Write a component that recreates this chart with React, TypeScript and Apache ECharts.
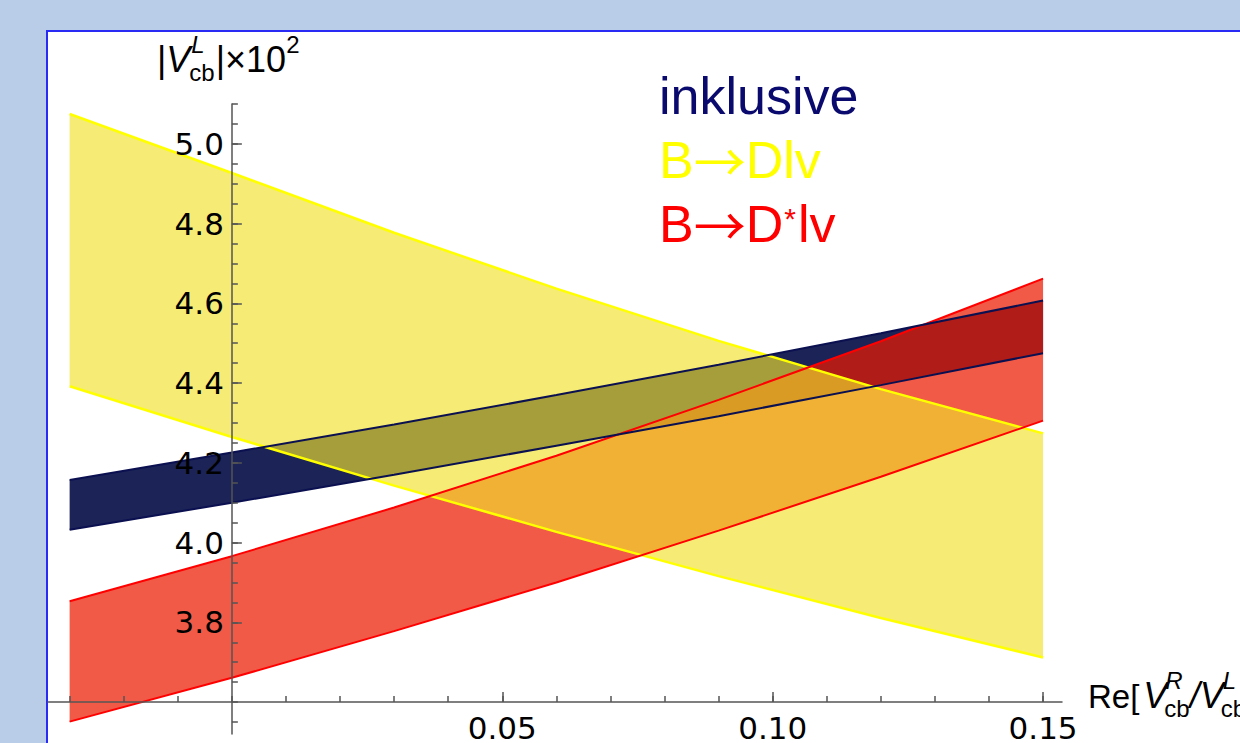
import React, { useEffect, useRef } from "react";
import * as echarts from "echarts";

// ---------------- data ----------------
const XS = [-0.03, 0, 0.03, 0.06, 0.09, 0.12, 0.15];
// inklusive band
const INKL_HI = [4.157, 4.226, 4.296, 4.37, 4.446, 4.525, 4.607];
const INKL_LO = [4.032, 4.1, 4.17, 4.243, 4.317, 4.395, 4.475];
// B -> D l nu band
const BDLV_HI = [5.075, 4.927, 4.777, 4.637, 4.506, 4.385, 4.274];
const BDLV_LO = [4.392, 4.265, 4.143, 4.027, 3.916, 3.811, 3.712];
// B -> D* l nu band
const BDSLV_HI = [3.853, 3.966, 4.088, 4.218, 4.358, 4.505, 4.662];
const BDSLV_LO = [3.551, 3.661, 3.778, 3.9, 4.03, 4.165, 4.306];

const SERIES_NAMES = ["inklusive", "B→Dlv", "B→D*lv"];

const Y_MAJOR = [3.8, 4.0, 4.2, 4.4, 4.6, 4.8, 5.0];
const Y_MINOR = [
  3.55, 3.6, 3.65, 3.7, 3.75, 3.8, 3.85, 3.9, 3.95, 4.0, 4.05, 4.1, 4.15, 4.2,
  4.25, 4.3, 4.35, 4.4, 4.45, 4.5, 4.55, 4.6, 4.65, 4.7, 4.75, 4.8, 4.85, 4.9,
  4.95, 5.0, 5.05, 5.1,
];
const X_MAJOR = [0.05, 0.1, 0.15];
const X_MINOR = [
  -0.03, -0.02, -0.01, 0, 0.01, 0.02, 0.03, 0.04, 0.05, 0.06, 0.07, 0.08, 0.09,
  0.1, 0.11, 0.12, 0.13, 0.14, 0.15,
];

const X_MIN = -0.034;
const X_MAX = 0.1535;
const Y_MIN = 3.52;
const Y_MAX = 5.1;
const X_AXIS_AT_Y = 3.6; // the horizontal axis crosses here
const Y_AXIS_AT_X = 0; // the vertical axis crosses here

// ---------------- layout / style ----------------
const W = 1240;
const H = 743;
const GRID_LEFT = 48;
const GRID_TOP = 104;
const GRID_W = 1014;
const GRID_H = 630;

const SANS = '"Liberation Sans", Arial, Helvetica, sans-serif';
const DEJAVU = '"DejaVu Sans", sans-serif';
const ARROWFONT = '"Noto Sans CJK SC", "DejaVu Sans", sans-serif';
const AXIS_COLOR = "#555555";

const NAVY_FILL = "#1b2357";
const RED_FILL = "rgb(234,26,0)";
const YELLOW_FILL = "rgb(240,225,43)";

export default function App() {
  const ref = useRef<HTMLDivElement>(null);

  useEffect(() => {
    const el = ref.current;
    if (!el) return;
    const chart = echarts.init(el, null, { renderer: "svg", width: W, height: H });

    const cnv = document.createElement("canvas").getContext("2d")!;
    const tw = (t: string, size: number, italic = false, fam = SANS) => {
      cnv.font = `${italic ? "italic " : ""}${size}px ${fam}`;
      return cnv.measureText(t).width;
    };
    const txt = (
      text: string,
      x: number,
      baseline: number,
      size: number,
      color: string,
      italic = false,
      rich?: any
    ) => ({
      type: "text",
      x,
      y: baseline - 0.35 * size,
      silent: true,
      z: 50,
      style: {
        text,
        fill: color,
        fontSize: size,
        lineHeight: size,
        fontFamily: SANS,
        fontStyle: italic ? "italic" : "normal",
        align: "left",
        verticalAlign: "middle",
        ...(rich ? { rich } : {}),
      },
    });

    const graphics: any[] = [];

    // ---- y axis title: |V^L_cb| x 10^2 ----
    {
      const B = 72;
      const M = 36;
      const S = 24;
      let x = 157;
      graphics.push(txt("|", x, B, M, "#000"));
      x += tw("|", M);
      graphics.push(txt("V", x, B, M, "#000", true));
      x += tw("V", M, true);
      graphics.push(txt("L", x + 1, B - 19, S, "#000", true));
      graphics.push(txt("cb", x - 1, B + 9, S, "#000"));
      x = Math.max(x + 1 + tw("L", S, true), x - 1 + tw("cb", S)) + 1;
      graphics.push(txt("|×10", x, B, M, "#000"));
      x += tw("|×10", M);
      graphics.push(txt("2", x, B - 19, S, "#000"));
    }

    // ---- x axis title: Re[V^R_cb / V^L_cb] ----
    {
      const B = 708;
      const M = 36;
      const S = 24;
      let x = 1088;
      graphics.push(txt("Re[", x, B, 33, "#000"));
      x += tw("Re[", 33) + 4;
      graphics.push(txt("V", x, B, M, "#000", true));
      x += tw("V", M, true);
      graphics.push(txt("R", x - 2, B - 19, S, "#000", true));
      graphics.push(txt("cb", x - 3, B + 9, S, "#000"));
      x = Math.max(x - 2 + tw("R", S, true), x - 3 + tw("cb", S));
      graphics.push(txt("/", x, B, M, "#000", true));
      x += tw("/", M, true);
      graphics.push(txt("V", x, B, M, "#000", true));
      x += tw("V", M, true);
      graphics.push(txt("L", x - 1, B - 19, S, "#000", true));
      graphics.push(txt("cb", x - 3, B + 9, S, "#000"));
      x = Math.max(x - 1 + tw("L", S, true), x - 3 + tw("cb", S));
      graphics.push(txt("]", x, B, M, "#000"));
    }

    // ---- legend texts ----
    {
      const LX = 659;
      const LS = 52;
      const richFor = (color: string) => ({
        a: { fontFamily: SANS, fontSize: LS, lineHeight: LS, fill: color },
        r: { fontFamily: ARROWFONT, fontSize: LS, lineHeight: LS, fill: color },
      });
      const arrowRich = (s: string) => s.replace("→", "}{r|→}{a|");
      graphics.push(txt(SERIES_NAMES[0], LX, 114, LS, "#0a0a6e"));
      graphics.push(
        txt("{a|" + arrowRich(SERIES_NAMES[1]) + "}", LX, 178, LS, "#ffff00", false, richFor("#ffff00"))
      );
      const [pre, post] = SERIES_NAMES[2].split("*");
      graphics.push(txt("{a|" + arrowRich(pre) + "}", LX, 242, LS, "#ff0000", false, richFor("#ff0000")));
      const parts = pre.split("→");
      const preW = tw(parts[0], LS) + tw("→", LS, false, ARROWFONT) + tw(parts[1], LS);
      const sx = LX + preW + 1;
      graphics.push(txt("*", sx, 229, 30, "#ff0000"));
      graphics.push(txt(post, sx + tw("*", 30) + 2, 242, LS, "#ff0000"));
    }

    const band = (name: string, hi: number[], lo: number[], fill: string, opacity: number, z: number) => ({
      type: "custom",
      name,
      xAxisIndex: 0,
      yAxisIndex: 0,
      clip: false,
      silent: true,
      z,
      data: [[XS[0], lo[0]]],
      renderItem: (_params: any, api: any) => {
        const pts: number[][] = [];
        for (let i = 0; i < XS.length; i++) pts.push(api.coord([XS[i], hi[i]]));
        for (let i = XS.length - 1; i >= 0; i--) pts.push(api.coord([XS[i], lo[i]]));
        return {
          type: "polygon",
          shape: { points: pts },
          style: { fill, opacity, stroke: "none" },
        };
      },
    });

    const edge = (name: string, ys: number[], color: string, width: number, z: number) => ({
      type: "line",
      name,
      xAxisIndex: 0,
      yAxisIndex: 0,
      data: XS.map((x, i) => [x, ys[i]]),
      symbol: "none",
      showSymbol: false,
      silent: true,
      z,
      lineStyle: { color, width },
    });

    const yAxOffset = -((Y_AXIS_AT_X - X_MIN) / (X_MAX - X_MIN)) * GRID_W;
    const xAxOffset = -((X_AXIS_AT_Y - Y_MIN) / (Y_MAX - Y_MIN)) * GRID_H;
    const axisLS = { color: AXIS_COLOR, width: 1.5 };

    const option: any = {
      animation: false,
      backgroundColor: "transparent",
      grid: {
        left: GRID_LEFT,
        top: GRID_TOP,
        width: GRID_W,
        height: GRID_H,
        containLabel: false,
        outerBoundsMode: "none",
      },
      xAxis: [
        {
          type: "value",
          min: X_MIN,
          max: X_MAX,
          position: "bottom",
          offset: xAxOffset,
          z: 10,
          axisLine: { show: true, onZero: false, lineStyle: axisLS },
          axisTick: { show: true, inside: true, length: 10, customValues: X_MAJOR, lineStyle: axisLS },
          axisLabel: {
            show: true,
            customValues: X_MAJOR,
            formatter: (v: number) => v.toFixed(2),
            fontFamily: DEJAVU,
            fontSize: 31,
            color: "#000",
            margin: 10,
          },
          splitLine: { show: false },
        },
        {
          type: "value",
          min: X_MIN,
          max: X_MAX,
          position: "bottom",
          offset: xAxOffset,
          z: 10,
          axisLine: { show: false, onZero: false },
          axisTick: { show: true, inside: true, length: 6, customValues: X_MINOR, lineStyle: axisLS },
          axisLabel: { show: false },
          splitLine: { show: false },
        },
      ],
      yAxis: [
        {
          type: "value",
          min: Y_MIN,
          max: Y_MAX,
          position: "left",
          offset: yAxOffset,
          z: 10,
          axisLine: { show: true, onZero: false, lineStyle: axisLS },
          axisTick: { show: true, inside: true, length: 10, customValues: Y_MAJOR, lineStyle: axisLS },
          axisLabel: {
            show: true,
            customValues: Y_MAJOR,
            formatter: (v: number) => v.toFixed(1),
            fontFamily: DEJAVU,
            fontSize: 31,
            color: "#000",
            margin: 8,
          },
          splitLine: { show: false },
        },
        {
          type: "value",
          min: Y_MIN,
          max: Y_MAX,
          position: "left",
          offset: yAxOffset,
          z: 10,
          axisLine: { show: false, onZero: false },
          axisTick: { show: true, inside: true, length: 6, customValues: Y_MINOR, lineStyle: axisLS },
          axisLabel: { show: false },
          splitLine: { show: false },
        },
      ],
      graphic: graphics,
      series: [
        band(SERIES_NAMES[0], INKL_HI, INKL_LO, NAVY_FILL, 1, 2),
        band(SERIES_NAMES[2], BDSLV_HI, BDSLV_LO, RED_FILL, 0.72, 3),
        band(SERIES_NAMES[1], BDLV_HI, BDLV_LO, YELLOW_FILL, 0.65, 4),
        edge(SERIES_NAMES[1] + " hi", BDLV_HI, "#ffff00", 2.5, 6),
        edge(SERIES_NAMES[1] + " lo", BDLV_LO, "#ffff00", 2.5, 6),
        edge(SERIES_NAMES[2] + " hi", BDSLV_HI, "#ff0000", 2, 7),
        edge(SERIES_NAMES[2] + " lo", BDSLV_LO, "#ff0000", 2, 7),
        edge(SERIES_NAMES[0] + " hi", INKL_HI, "#0b1050", 2, 8),
        edge(SERIES_NAMES[0] + " lo", INKL_LO, "#0b1050", 2, 8),
      ],
    };

    chart.setOption(option);
    return () => chart.dispose();
  }, []);

  return (
    <div
      style={{
        position: "fixed",
        left: 0,
        top: 0,
        width: W,
        height: H,
        overflow: "hidden",
        background: "#b9cde9",
      }}
    >
      <div
        style={{
          position: "absolute",
          left: 46,
          top: 30,
          width: 1400,
          height: 900,
          background: "#ffffff",
          border: "2px solid #2a2af5",
          boxSizing: "border-box",
        }}
      />
      <div ref={ref} style={{ position: "absolute", left: 0, top: 0, width: W, height: H }} />
    </div>
  );
}
